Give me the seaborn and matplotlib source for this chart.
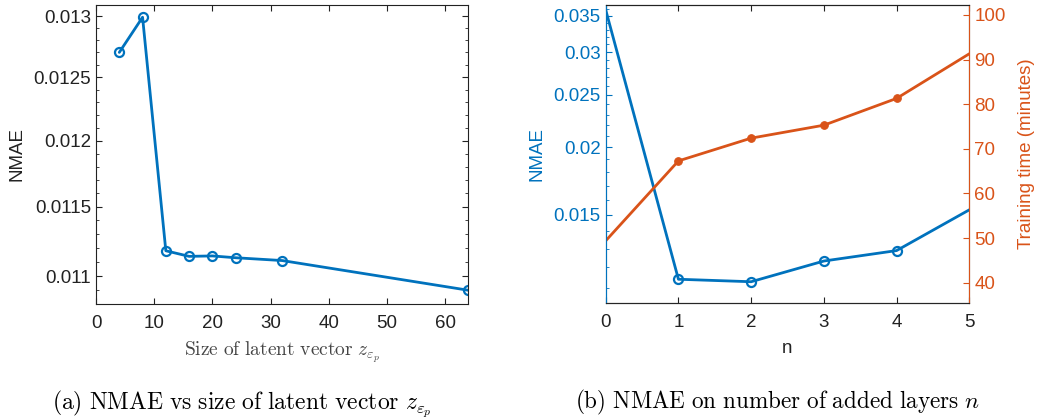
import numpy as np
import pandas as pd
import matplotlib
matplotlib.use("Agg")
import matplotlib.pyplot as plt
import matplotlib.ticker as mticker
import seaborn as sns

# (a) NMAE vs size of latent vector
latent_size = [4, 8, 12, 16, 20, 24, 32, 64]
nmae_latent = [0.01270, 0.01299, 0.01118, 0.01114, 0.011143, 0.01113, 0.01111, 0.01090]

# (b) NMAE and training time vs number of added layers
n_layers = [0, 1, 2, 3, 4, 5]
nmae_layers = [0.0359, 0.01141, 0.01129, 0.01233, 0.01289, 0.01533]
train_minutes = [49.4, 67.3, 72.4, 75.3, 81.3, 91.3]

left_ticks = [0.011, 0.0115, 0.012, 0.0125, 0.013]
right_ticks = [0.015, 0.02, 0.025, 0.03, 0.035]
time_ticks = [40, 50, 60, 70, 80, 90, 100]

BLUE = "#0072BD"
ORANGE = "#D95319"
TS = 13.5  # tick label size

sns.set_style("ticks")
plt.rcParams["font.family"] = ["Liberation Sans", "DejaVu Sans"]
plt.rcParams["mathtext.fontset"] = "cm"
plt.rcParams["xtick.direction"] = "in"
plt.rcParams["ytick.direction"] = "in"

fig = plt.figure(figsize=(10.37, 4.18), dpi=100)
ax1 = fig.add_axes([0.0926, 0.2727, 0.359, 0.716])
ax2 = fig.add_axes([0.5841, 0.2744, 0.3506, 0.7144])

fmt = mticker.FuncFormatter(lambda v, p: f"{v:g}")

# ---- left panel
df_a = pd.DataFrame({"size": latent_size, "nmae": nmae_latent})
sns.lineplot(data=df_a, x="size", y="nmae", ax=ax1, color=BLUE, lw=2,
             marker="o", markersize=6.5, markerfacecolor="none",
             markeredgecolor=BLUE, markeredgewidth=1.6)
ax1.set_yscale("log")
ax1.set_xlim(0, 64)
ax1.set_ylim(0.010804, 0.013095)
ax1.yaxis.set_major_locator(mticker.FixedLocator(left_ticks))
ax1.yaxis.set_major_formatter(fmt)
ax1.yaxis.set_minor_locator(mticker.FixedLocator(np.arange(0.0108, 0.01311, 0.0001)))
ax1.yaxis.set_minor_formatter(mticker.NullFormatter())
ax1.set_xticks(np.arange(0, 61, 10))
ax1.tick_params(which="both", top=True, right=True, labelsize=TS, color="#222222",
                labelcolor="#222222", length=4)
ax1.tick_params(axis="x", pad=8)
ax1.tick_params(which="minor", length=2)
for s in ax1.spines.values():
    s.set_color("#222222")
    s.set_linewidth(0.8)
ax1.set_ylabel("NMAE", fontsize=13.5, color="#222222", labelpad=6)
ax1.set_xlabel(r"$\mathrm{Size\ of\ latent\ vector}\ z_{\varepsilon_p}$", fontsize=14,
               color="#444444", labelpad=5)

# ---- right panel
df_b = pd.DataFrame({"n": n_layers, "nmae": nmae_layers, "time": train_minutes})
sns.lineplot(data=df_b, x="n", y="nmae", ax=ax2, color=BLUE, lw=2,
             marker="o", markersize=6.5, markerfacecolor="none",
             markeredgecolor=BLUE, markeredgewidth=1.6, markevery=[1, 2, 3, 4])
ax2.set_yscale("log")
ax2.set_xlim(0, 5)
ax2.set_ylim(0.0103, 0.0367)
ax2.yaxis.set_major_locator(mticker.FixedLocator(right_ticks))
ax2.yaxis.set_major_formatter(fmt)
ax2.yaxis.set_minor_locator(mticker.FixedLocator(np.arange(0.010, 0.0371, 0.001)))
ax2.yaxis.set_minor_formatter(mticker.NullFormatter())
ax2.tick_params(axis="y", which="both", colors=BLUE, labelsize=TS, length=4)
ax2.tick_params(axis="y", which="minor", length=2)
ax2.tick_params(axis="x", top=True, labelsize=TS, color="#222222",
                labelcolor="#222222", length=4, pad=8)
ax2.set_ylabel("NMAE", fontsize=13.5, color=BLUE, labelpad=6)
ax2.set_xlabel("n", fontsize=13.5, color="#222222", labelpad=6)

ax3 = ax2.twinx()
sns.lineplot(data=df_b, x="n", y="time", ax=ax3, color=ORANGE, lw=2,
             marker="o", markersize=5.5, markerfacecolor=ORANGE,
             markeredgecolor=ORANGE, markevery=[1, 2, 3, 4])
ax3.set_ylim(35.4, 102.3)
ax3.set_yticks(time_ticks)
ax3.tick_params(axis="y", colors=ORANGE, labelsize=TS, length=4, direction="in")
ax3.set_ylabel("Training time (minutes)", fontsize=13.5, color=ORANGE, labelpad=9)
for s in ax2.spines.values():
    s.set_color("#222222")
    s.set_linewidth(0.8)
ax2.spines["left"].set_color(BLUE)
ax3.spines["left"].set_color(BLUE)
ax3.spines["right"].set_color(ORANGE)
ax3.spines["top"].set_color("#222222")
for s in ax3.spines.values():
    s.set_linewidth(0.8)

# captions
fig.text(0.2335, 0.022, r"$\mathrm{(a)\ NMAE\ vs\ size\ of\ latent\ vector}\ z_{\varepsilon_p}$",
         ha="center", fontsize=17, color="black")
fig.text(0.7495, 0.022, r"$\mathrm{(b)\ NMAE\ on\ number\ of\ added\ layers}\ n$",
         ha="center", fontsize=16.7, color="black")

fig.savefig("out.png", dpi=100)
